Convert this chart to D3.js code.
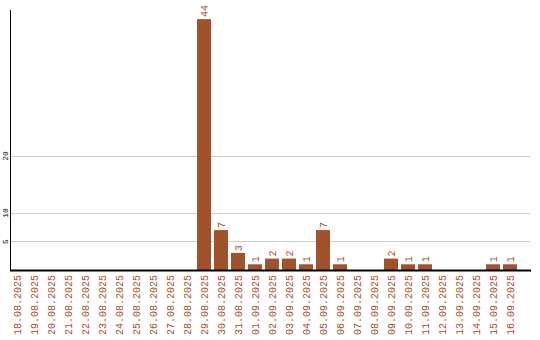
<!DOCTYPE html>
<html>
<head>
<meta charset="utf-8">
<script src="https://cdn.jsdelivr.net/npm/d3@7"></script>
<style>
  body { margin: 0; background: #fff; }
  svg { display: block; }
</style>
</head>
<body>
<svg id="chart" width="540" height="340"></svg>
<script>
// days shown along the bottom
var days = ["18.08.2025", "19.08.2025", "20.08.2025", "21.08.2025", "22.08.2025",
  "23.08.2025", "24.08.2025", "25.08.2025", "26.08.2025", "27.08.2025", "28.08.2025",
  "29.08.2025", "30.08.2025", "31.08.2025", "01.09.2025", "02.09.2025", "03.09.2025",
  "04.09.2025", "05.09.2025", "06.09.2025", "07.09.2025", "08.09.2025", "09.09.2025",
  "10.09.2025", "11.09.2025", "12.09.2025", "13.09.2025", "14.09.2025", "15.09.2025",
  "16.09.2025"]
// count per day
var counts = [0, 0, 0, 0, 0, 0, 0, 0, 0, 0, 0,
  44, 7, 3, 1, 2, 2, 1, 7, 1, 0, 0, 2, 1, 1, 0, 0, 0, 1, 1]
// ticks on the left axis
var yTicks = [5, 10, 20]

var brown = "#a0522d"
var font = "Liberation Mono, Courier New, monospace"
var svg = d3.select("#chart")

var x = d3.scaleBand()
    .domain(days)
    .range([10, 517])
    .paddingInner(3 / 17)
    .paddingOuter(0)

var y = d3.scaleLinear()
    .domain([0, 45.6])
    .range([270, 10])

//gridlines
svg.append("g").selectAll("line")
    .data(yTicks).enter()
    .append("line")
    .attr("x1", 11).attr("x2", 530)
    .attr("y1", function(d) { return Math.round(y(d)) + 0.5 })
    .attr("y2", function(d) { return Math.round(y(d)) + 0.5 })
    .attr("stroke", "#cccccc")

//y tick labels, turned on their side
svg.append("g").selectAll("text")
    .data(yTicks).enter()
    .append("text")
    .attr("transform", function(d) { return "translate(5," + y(d) + ") rotate(-90)" })
    .attr("text-anchor", "middle")
    .attr("dy", "0.35em")
    .attr("font-family", font)
    .attr("font-size", 8)
    .attr("fill", "#000")
    .text(function(d) { return d })

//bars
svg.append("g").selectAll("rect")
    .data(counts).enter()
    .append("rect")
    .attr("x", function(d, i) { return x(days[i]) })
    .attr("width", x.bandwidth())
    .attr("y", function(d) { return y(d) })
    .attr("height", function(d) { return y(0) - y(d) })
    .attr("fill", brown)

//value labels (only for days with something)
svg.append("g").selectAll("text")
    .data(counts.map(function(d, i) { return {v: d, day: days[i]} })
        .filter(function(d) { return d.v > 0 }))
    .enter()
    .append("text")
    .attr("transform", function(d) {
        return "translate(" + (x(d.day) + x.bandwidth() / 2) + "," + (y(d.v) - 2) + ") rotate(-90)"
    })
    .attr("dy", "0.35em")
    .attr("font-family", font)
    .attr("font-size", 10)
    .attr("fill", brown)
    .text(function(d) { return d.v })

//axis lines
svg.append("line")
    .attr("x1", 10.5).attr("x2", 10.5)
    .attr("y1", 10).attr("y2", 271)
    .attr("stroke", "#000")
svg.append("line")
    .attr("x1", 10).attr("x2", 531)
    .attr("y1", 270.5).attr("y2", 270.5)
    .attr("stroke", "#000")
    .attr("stroke-width", 2)

//x labels
svg.append("g").selectAll("text")
    .data(days).enter()
    .append("text")
    .attr("transform", function(d) {
        return "translate(" + (x(d) + x.bandwidth() / 2) + ",275) rotate(-90)"
    })
    .attr("text-anchor", "end")
    .attr("dy", "0.35em")
    .attr("font-family", font)
    .attr("font-size", 10)
    .attr("fill", brown)
    .text(function(d) { return d })
</script>
</body>
</html>
